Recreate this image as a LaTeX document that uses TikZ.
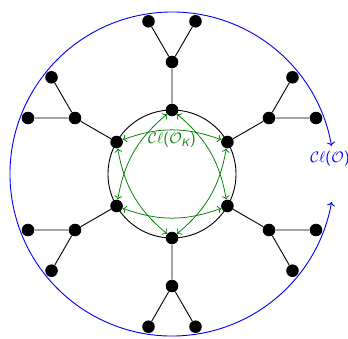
\documentclass[tikz,border=0pt]{standalone}
\usepackage{amsmath}
\usetikzlibrary{arrows.meta}
\definecolor{kgreen}{RGB}{0,128,0}
\newcommand{\sfp}[1]{\text{\sffamily #1}}
\begin{document}
\begin{tikzpicture}[x=0.66pt,y=0.66pt,
  dot/.style={circle,fill=black,inner sep=0pt,minimum size=8.3pt},
  edge/.style={black,line width=0.6pt},
  garc/.style={draw=kgreen,line width=0.5pt,{To[length=2.5pt]}-{To[length=2.5pt]},bend left=20},
  barc/.style={draw=blue,line width=0.6pt,{To[length=2.5pt]}-{To[length=2.5pt]}}]
\useasboundingbox (-172,-164) rectangle (176,174);
\draw[edge] (0,0) circle[radius=64];
\foreach \k/\a in {1/90,2/30,3/-30,4/-90,5/-150,6/150} {
  \node[dot] (i\k) at (\a:64) {};
  \node[dot] (m\k) at (\a:112) {};
  \node[dot] (a\k) at ([shift={(\a+30:47)}]\a:112) {};
  \node[dot] (b\k) at ([shift={(\a-30:47)}]\a:112) {};
  \draw[edge] (i\k) -- (m\k) (m\k) -- (a\k) (m\k) -- (b\k);
}
\draw[garc] (i6) to (i2);
\draw[garc] (i2) to (i4);
\draw[garc] (i4) to (i6);
\draw[garc] (i1) to (i3);
\draw[garc] (i3) to (i5);
\draw[garc] (i5) to (i1);
\coordinate (bs) at (10:162);
\draw[barc] (bs) arc[start angle=10, end angle=350, radius=162];
\node[text=kgreen] (lblK) at (0,34) {$\mathcal{C}\ell\sfp{(}\mathcal{O}_{\sfp{\itshape K}}\sfp{)}$};
\node[text=blue, anchor=west, inner sep=0pt] (lblO) at (138,15) {$\mathcal{C}\ell\sfp{(}\mathcal{O}\sfp{)}$};
\end{tikzpicture}
\end{document}
